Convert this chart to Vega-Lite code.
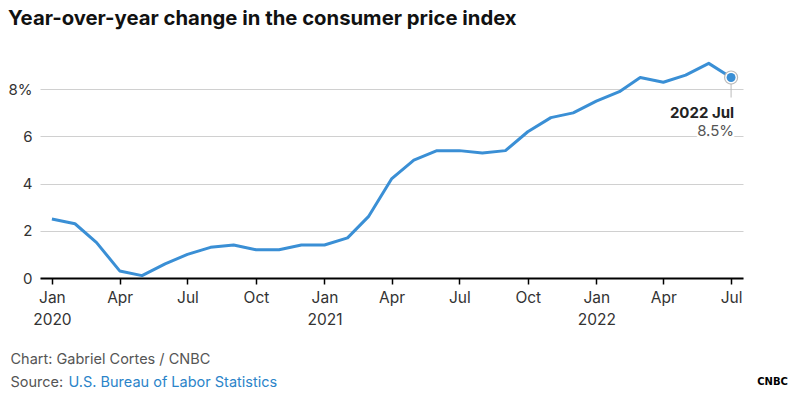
{
  "$schema": "https://vega.github.io/schema/vega-lite/v6.json",
  "width": 703,
  "height": 217,
  "autosize": {"type": "none"},
  "padding": {"left": 40, "top": 61, "right": 57, "bottom": 120},
  "background": "white",
  "config": {"view": {"stroke": null}, "font": "Inter"},
  "title": {
    "text": "Year-over-year change in the consumer price index",
    "anchor": "start",
    "frame": "bounds",
    "fontSize": 20.3,
    "fontWeight": "bold",
    "color": "#111111",
    "offset": 32,
    "font": "Inter"
  },
  "datasets": {
    "cpi": [
      {"date": "2020-01-01", "v": 2.5},
      {"date": "2020-02-01", "v": 2.3},
      {"date": "2020-03-01", "v": 1.5},
      {"date": "2020-04-01", "v": 0.3},
      {"date": "2020-05-01", "v": 0.1},
      {"date": "2020-06-01", "v": 0.6},
      {"date": "2020-07-01", "v": 1.0},
      {"date": "2020-08-01", "v": 1.3},
      {"date": "2020-09-01", "v": 1.4},
      {"date": "2020-10-01", "v": 1.2},
      {"date": "2020-11-01", "v": 1.2},
      {"date": "2020-12-01", "v": 1.4},
      {"date": "2021-01-01", "v": 1.4},
      {"date": "2021-02-01", "v": 1.7},
      {"date": "2021-03-01", "v": 2.6},
      {"date": "2021-04-01", "v": 4.2},
      {"date": "2021-05-01", "v": 5.0},
      {"date": "2021-06-01", "v": 5.4},
      {"date": "2021-07-01", "v": 5.4},
      {"date": "2021-08-01", "v": 5.3},
      {"date": "2021-09-01", "v": 5.4},
      {"date": "2021-10-01", "v": 6.2},
      {"date": "2021-11-01", "v": 6.8},
      {"date": "2021-12-01", "v": 7.0},
      {"date": "2022-01-01", "v": 7.5},
      {"date": "2022-02-01", "v": 7.9},
      {"date": "2022-03-01", "v": 8.5},
      {"date": "2022-04-01", "v": 8.3},
      {"date": "2022-05-01", "v": 8.6},
      {"date": "2022-06-01", "v": 9.1},
      {"date": "2022-07-01", "v": 8.5}
    ],
    "last": [
      {"date": "2022-07-01", "v": 8.5, "label": "2022 Jul", "vlabel": "8.5%"}
    ]
  },
  "layer": [
    {
      "data": {"name": "cpi"},
      "mark": {"type": "line", "color": "#3a8fd5", "strokeWidth": 3, "strokeJoin": "round"},
      "encoding": {
        "x": {
          "field": "date",
          "type": "temporal",
          "scale": {
            "type": "utc",
            "domain": [
              {"year": 2019, "month": 12, "date": 16, "utc": true},
              {"year": 2022, "month": 7, "date": 17, "utc": true}
            ]
          },
          "axis": {
            "orient": "bottom",
            "tickCount": {"interval": "month", "step": 3},
            "labelExpr": "utcmonth(datum.value) == 0 ? [utcFormat(datum.value, '%b'), utcFormat(datum.value, '%Y')] : utcFormat(datum.value, '%b')",
            "grid": false,
            "domainColor": "#000000",
            "domainWidth": 2,
            "tickColor": "#000000",
            "tickSize": 6,
            "tickWidth": 1.5,
            "labelFontSize": 15.5,
            "labelColor": "#333333",
            "labelPadding": 6,
            "labelLineHeight": 22,
            "labelFlush": false,
            "labelOverlap": false,
            "title": ["Chart: Gabriel Cortes / CNBC", "Source:"],
            "titleAnchor": "start",
            "titleAlign": "left",
            "titleX": -30,
            "titleY": 85,
            "titleFontSize": 14.5,
            "titleFontWeight": "normal",
            "titleColor": "#555555",
            "titleLineHeight": 23,
            "titleBaseline": "alphabetic"
          }
        },
        "y": {
          "field": "v",
          "type": "quantitative",
          "scale": {"domain": [0, 9.2], "nice": false},
          "axis": {
            "values": [0, 2, 4, 6, 8],
            "labelExpr": "datum.value == 8 ? '8%' : datum.label",
            "domain": false,
            "ticks": false,
            "gridColor": "#d0d0d0",
            "gridWidth": 1,
            "labelFontSize": 15,
            "labelColor": "#333333",
            "labelPadding": 8,
            "title": "CNBC",
            "titleAngle": 0,
            "titleAlign": "center",
            "titleBaseline": "alphabetic",
            "titleX": 732,
            "titleY": 323,
            "titleFont": "DejaVu Sans",
            "titleFontSize": 10,
            "titleFontWeight": "bold",
            "titleColor": "#000000"
          }
        }
      }
    },
    {
      "data": {"name": "last"},
      "encoding": {
        "x": {
          "field": "date",
          "type": "temporal",
          "scale": {
            "type": "utc",
            "domain": [
              {"year": 2019, "month": 12, "date": 16, "utc": true},
              {"year": 2022, "month": 7, "date": 17, "utc": true}
            ]
          },
          "axis": {
            "orient": "bottom",
            "labels": false,
            "ticks": false,
            "domain": false,
            "grid": false,
            "title": "U.S. Bureau of Labor Statistics",
            "titleColor": "#2b84c9",
            "titleFontSize": 14.5,
            "titleFontWeight": "normal",
            "titleAnchor": "start",
            "titleAlign": "left",
            "titleX": 28,
            "titleY": 108,
            "titleBaseline": "alphabetic"
          }
        },
        "y": {"field": "v", "type": "quantitative"}
      },
      "layer": [
        {
          "mark": {"type": "rule", "color": "#bbbbbb", "strokeWidth": 1},
          "encoding": {"y2": {"datum": 7.65}}
        },
        {
          "mark": {"type": "point", "shape": "circle", "filled": true, "fill": "white", "stroke": "#bbbbbb", "strokeWidth": 1.2, "size": 170, "opacity": 1}
        },
        {
          "mark": {"type": "point", "shape": "circle", "filled": true, "color": "#3a8fd5", "size": 80, "opacity": 1}
        },
        {
          "mark": {"type": "text", "align": "right", "baseline": "middle", "dx": 3, "dy": 35, "fontSize": 15, "fontWeight": "bold", "stroke": "white", "strokeWidth": 5, "color": "white"},
          "encoding": {"text": {"field": "label"}}
        },
        {
          "mark": {"type": "text", "align": "right", "baseline": "middle", "dx": 3, "dy": 35, "fontSize": 15, "fontWeight": "bold", "color": "#222222"},
          "encoding": {"text": {"field": "label"}}
        },
        {
          "mark": {"type": "text", "align": "right", "baseline": "middle", "dx": 3, "dy": 53, "fontSize": 15, "stroke": "white", "strokeWidth": 5, "color": "white"},
          "encoding": {"text": {"field": "vlabel"}}
        },
        {
          "mark": {"type": "text", "align": "right", "baseline": "middle", "dx": 3, "dy": 53, "fontSize": 15, "color": "#555555"},
          "encoding": {"text": {"field": "vlabel"}}
        }
      ]
    }
  ],
  "resolve": {"scale": {"x": "independent"}, "axis": {"x": "independent"}}
}
